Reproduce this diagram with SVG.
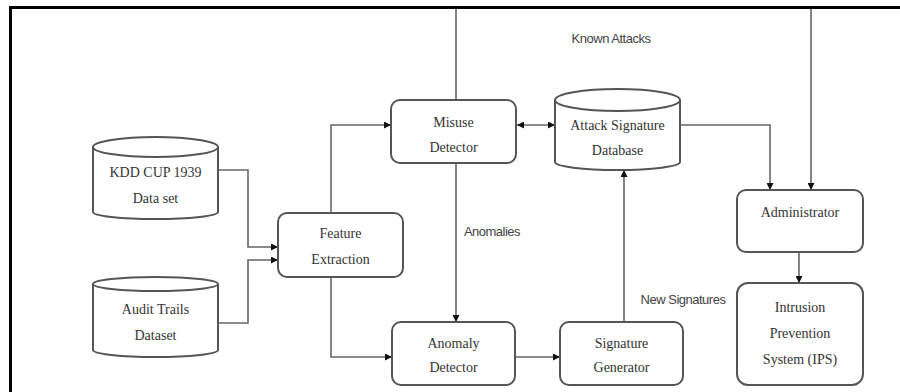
<svg xmlns="http://www.w3.org/2000/svg" width="900" height="392" viewBox="0 0 900 392">
<defs>
<marker id="ah" viewBox="0 0 10 10" refX="10" refY="5" markerWidth="7" markerHeight="7" orient="auto-start-reverse" markerUnits="userSpaceOnUse">
<path d="M0,0 L10,5 L0,10 z" fill="#111"/>
</marker>
<style>
.box{fill:#fff;stroke:#555;stroke-width:2}
.cyl{fill:#fff;stroke:#555;stroke-width:2}
.t{font-family:"Liberation Serif","Times New Roman",serif;font-size:14px;fill:#333;text-anchor:middle}
.lbl{font-family:"Liberation Sans",Arial,sans-serif;font-size:13px;fill:#444;text-anchor:middle;letter-spacing:-0.5px}
.c{fill:none;stroke:#666;stroke-width:1.6}
.ca{fill:none;stroke:#666;stroke-width:1.6;marker-end:url(#ah)}
.cb{fill:none;stroke:#666;stroke-width:1.6;marker-end:url(#ah);marker-start:url(#ah)}
</style>
</defs>
<rect width="900" height="392" fill="#fff"/>
<path d="M10.5,392 L10.5,7.5 L900,7.5" fill="none" stroke="#000" stroke-width="3"/>

<g id="connectors">
<path class="ca" d="M218,170 L248,170 L248,247 L278,247"/>
<path class="ca" d="M218,323 L248,323 L248,260 L278,260"/>
<path class="ca" d="M331,213 L331,125 L391,125"/>
<path class="ca" d="M331,277 L331,357 L392,357"/>
<path class="c" d="M456,100 L456,9"/>
<path class="ca" d="M456,163 L456,322"/>
<path class="cb" d="M517,125 L555,125"/>
<path class="ca" d="M515,357 L560,357"/>
<path class="ca" d="M624,322 L624,170"/>
<path class="ca" d="M680,125 L770,125 L770,190"/>
<path class="ca" d="M811,9 L811,190"/>
<path class="ca" d="M799,252 L799,283"/>
</g>

<g id="labels">
<text class="lbl" x="611" y="43">Known Attacks</text>
<text class="lbl" x="492" y="236">Anomalies</text>
<text class="lbl" x="683" y="304">New Signatures</text>
</g>

<g id="kdd">
<path class="cyl" d="M93,147 L93,212 A62.5,7 0 0 0 218,212 L218,147"/>
<ellipse class="cyl" cx="155.5" cy="147" rx="62.5" ry="10"/>
<text class="t" x="155.5" y="177">KDD CUP 1939</text>
<text class="t" x="155.5" y="203">Data set</text>
</g>

<g id="audit">
<path class="cyl" d="M93,284 L93,350 A62.5,7 0 0 0 218,350 L218,284"/>
<ellipse class="cyl" cx="155.5" cy="284" rx="62.5" ry="7"/>
<text class="t" x="155.5" y="314">Audit Trails</text>
<text class="t" x="155.5" y="340">Dataset</text>
</g>

<g id="feature">
<rect class="box" x="278" y="213" width="125" height="64" rx="9"/>
<text class="t" x="340.5" y="238">Feature</text>
<text class="t" x="340.5" y="264">Extraction</text>
</g>

<g id="misuse">
<rect class="box" x="391" y="100" width="125" height="63" rx="9"/>
<text class="t" x="453.5" y="127">Misuse</text>
<text class="t" x="453.5" y="152">Detector</text>
</g>

<g id="attackdb">
<path class="cyl" d="M555,100 L555,162 A62.5,8 0 0 0 680,162 L680,100"/>
<ellipse class="cyl" cx="617.5" cy="100" rx="62.5" ry="11"/>
<text class="t" x="617.5" y="130">Attack Signature</text>
<text class="t" x="617.5" y="155">Database</text>
</g>

<g id="anomaly">
<rect class="box" x="392" y="322" width="123" height="63" rx="9"/>
<text class="t" x="453.5" y="348">Anomaly</text>
<text class="t" x="453.5" y="372">Detector</text>
</g>

<g id="siggen">
<rect class="box" x="560" y="322" width="123" height="63" rx="9"/>
<text class="t" x="621.5" y="348">Signature</text>
<text class="t" x="621.5" y="372">Generator</text>
</g>

<g id="admin">
<rect class="box" x="737" y="190" width="126" height="62" rx="9"/>
<text class="t" x="800" y="217">Administrator</text>
</g>

<g id="ips">
<rect class="box" x="737" y="283" width="126" height="102" rx="11"/>
<text class="t" x="800" y="312">Intrusion</text>
<text class="t" x="800" y="338">Prevention</text>
<text class="t" x="800" y="364">System (IPS)</text>
</g>
</svg>
